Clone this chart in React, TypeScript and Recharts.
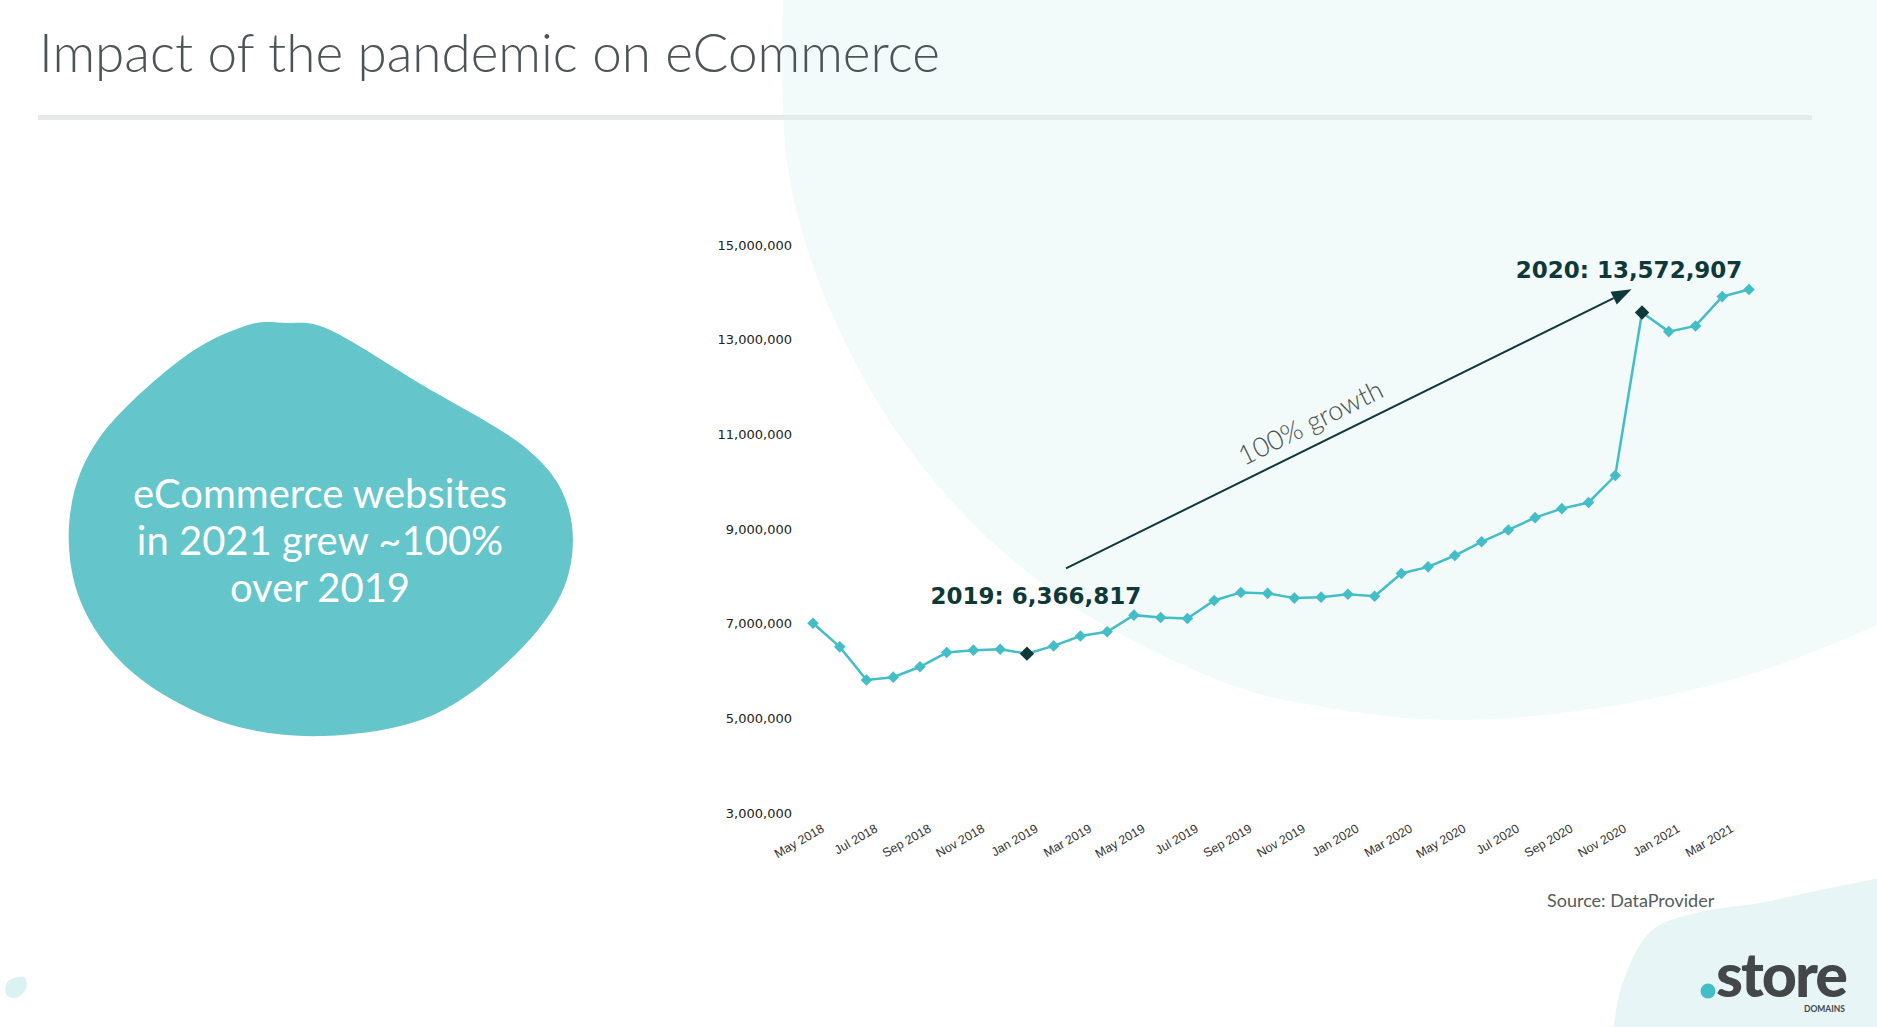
import { LineChart, Line, XAxis, YAxis, ReferenceDot, ReferenceLine } from 'recharts';

const months = [
  'May 2018', 'Jun 2018', 'Jul 2018', 'Aug 2018', 'Sep 2018', 'Oct 2018', 'Nov 2018', 'Dec 2018',
  'Jan 2019', 'Feb 2019', 'Mar 2019', 'Apr 2019', 'May 2019', 'Jun 2019', 'Jul 2019', 'Aug 2019',
  'Sep 2019', 'Oct 2019', 'Nov 2019', 'Dec 2019', 'Jan 2020', 'Feb 2020', 'Mar 2020', 'Apr 2020',
  'May 2020', 'Jun 2020', 'Jul 2020', 'Aug 2020', 'Sep 2020', 'Oct 2020', 'Nov 2020', 'Dec 2020',
  'Jan 2021', 'Feb 2021', 'Mar 2021', 'Apr 2021',
];

const websites = [
  7010000, 6510000, 5810000, 5870000, 6090000, 6390000, 6440000, 6460000,
  6366817, 6530000, 6740000, 6830000, 7180000, 7130000, 7110000, 7490000,
  7660000, 7640000, 7540000, 7560000, 7620000, 7580000, 8060000, 8200000,
  8440000, 8730000, 8980000, 9240000, 9430000, 9560000, 10130000, 13572907,
  13170000, 13290000, 13910000, 14060000,
];

const tickMonths = [
  'May 2018', 'Jul 2018', 'Sep 2018', 'Nov 2018', 'Jan 2019', 'Mar 2019', 'May 2019', 'Jul 2019',
  'Sep 2019', 'Nov 2019', 'Jan 2020', 'Mar 2020', 'May 2020', 'Jul 2020', 'Sep 2020', 'Nov 2020',
  'Jan 2021', 'Mar 2021',
];

const yTicks = [3000000, 5000000, 7000000, 9000000, 11000000, 13000000, 15000000];

const highlights = [
  { month: 'Jan 2019', label: '2019: 6,366,817' },
  { month: 'Dec 2020', label: '2020: 13,572,907' },
];

const data = months.map((m, i) => ({ i, month: m, value: websites[i] }));
const highlightIdx = highlights.map((h) => months.indexOf(h.month));

const W = 1877;
const H = 1027;
const teal = '#43bec6';
const dark = '#0f3838';

// smooth curve through points (catmull-rom), used for the decorative blobs
function smoothPath(pts: number[][], closed: boolean) {
  const n = pts.length;
  const get = (k: number) => (closed ? pts[(k + n) % n] : pts[Math.max(0, Math.min(n - 1, k))]);
  let d = `M${pts[0][0]},${pts[0][1]}`;
  const segs = closed ? n : n - 1;
  for (let k = 0; k < segs; k++) {
    const p0 = get(k - 1), p1 = get(k), p2 = get(k + 1), p3 = get(k + 2);
    const c1 = [p1[0] + (p2[0] - p0[0]) / 6, p1[1] + (p2[1] - p0[1]) / 6];
    const c2 = [p2[0] - (p3[0] - p1[0]) / 6, p2[1] - (p3[1] - p1[1]) / 6];
    d += ` C${c1[0]},${c1[1]} ${c2[0]},${c2[1]} ${p2[0]},${p2[1]}`;
  }
  return closed ? d + ' Z' : d;
}

const bigCircle =
  smoothPath(
    [[783, -29], [788, 168], [841, 334], [934, 481], [1063, 599], [1218, 680], [1330, 708],
      [1446, 720], [1570, 712], [1700, 688], [1800, 657], [1900, 615]],
    false,
  ) + ' L1900,-40 L783,-40 Z';

const cornerBlob =
  smoothPath(
    [[1612, 1040], [1622, 985], [1650, 932], [1700, 912], [1760, 903], [1820, 890], [1890, 876]],
    false,
  ) + ' L1890,1040 Z';

const leftBlob = smoothPath(
  [[287, 323], [330, 330], [419, 383], [527, 449], [569, 510], [565, 585], [515, 655], [431, 716],
    [323, 736], [222, 722], [132, 672], [80, 600], [70, 515], [100, 437], [180, 360], [245, 326]],
  true,
);

const smallBlob = smoothPath([[8, 981], [24, 977], [26, 989], [16, 998], [6, 994]], true);

function XTick(props: any) {
  const { x, y, payload } = props;
  return (
    <text
      transform={`translate(${x + 12},${y + 18}) rotate(-30)`}
      textAnchor="end"
      fontFamily="Liberation Sans"
      fontSize={12.5}
      fill="#333"
    >
      {months[payload.value]}
    </text>
  );
}

function Diamond(props: any) {
  const { cx, cy, index } = props;
  const hl = highlightIdx.includes(index);
  const s = hl ? 7.2 : 5.8;
  return (
    <polygon
      key={`d-${index}`}
      points={`${cx},${cy - s} ${cx + s},${cy} ${cx},${cy + s} ${cx - s},${cy}`}
      fill={hl ? dark : teal}
    />
  );
}

function GrowthArrow(props: any) {
  const { x1, y1, x2, y2 } = props;
  const a = Math.atan2(y2 - y1, x2 - x1);
  const len = 20;
  const half = 7;
  const bx = x2 - len * Math.cos(a);
  const by = y2 - len * Math.sin(a);
  const nx = Math.sin(a);
  const ny = -Math.cos(a);
  const t = 0.45;
  const tx = x1 + (x2 - x1) * t + 13 * nx;
  const ty = y1 + (y2 - y1) * t + 13 * ny;
  return (
    <g>
      <line x1={x1} y1={y1} x2={bx} y2={by} stroke={dark} strokeWidth={2} />
      <polygon
        points={`${x2},${y2} ${bx + half * nx},${by + half * ny} ${bx - half * nx},${by - half * ny}`}
        fill={dark}
      />
      <text
        x={tx}
        y={ty}
        transform={`rotate(${(a * 180) / Math.PI},${tx},${ty})`}
        textAnchor="middle"
        fontFamily="Lato"
        fontWeight={300}
        fontSize={27}
        fill="#485051"
      >
        100% growth
      </text>
    </g>
  );
}

function makeLabel(text: string, dx: number, dy: number) {
  return (p: any) => {
    const vb = p.viewBox || {};
    return (
      <text
        x={vb.x + dx}
        y={vb.y + dy}
        textAnchor="middle"
        fontFamily="DejaVu Sans"
        fontWeight="bold"
        fontSize={23}
        fill={dark}
      >
        {text}
      </text>
    );
  };
}

export default function App() {
  return (
    <div style={{ position: 'fixed', left: 0, top: 0, width: W, height: H, overflow: 'hidden', background: '#fff' }}>
      <svg width={W} height={H} style={{ position: 'absolute', left: 0, top: 0 }}>
        <path d={bigCircle} fill="#f3fafa" />
        <path d={cornerBlob} fill="#e8f5f6" />
        <path d={smallBlob} fill="#dcf1f2" />
        <text x={39} y={72} fontFamily="Lato" fontWeight={300} fontSize={53} fill="#4d5455">
          Impact of the pandemic on eCommerce
        </text>
        <rect x={38} y={115} width={1774} height={5} fill="#e7eaea" />
        <path d={leftBlob} fill="#64c6ca" />
        <g fontFamily="Lato" fontSize={40} fill="#fff" textAnchor="middle">
          <text x={320} y={508}>eCommerce websites</text>
          <text x={320} y={555}>in 2021 grew ~100%</text>
          <text x={320} y={602}>over 2019</text>
        </g>
        <text x={1547} y={907} fontFamily="Lato" fontSize={18} fill="#555b5c">
          Source: DataProvider
        </text>
        <circle cx={1708} cy={991} r={7.5} fill={teal} />
        <text x={1716} y={997} fontFamily="Lato" fontWeight={900} fontSize={61} letterSpacing={-2} fill="#43474a">
          store
        </text>
        <text x={1845} y={1012} textAnchor="end" fontFamily="Lato" fontWeight={700} fontSize={8.5} fill="#43474a">
          DOMAINS
        </text>
      </svg>
      <div style={{ position: 'absolute', left: 0, top: 0 }}>
        <LineChart width={W} height={H} data={data} margin={{ top: 245, right: 128, bottom: 154, left: 713 }}>
          <XAxis
            type="number"
            dataKey="i"
            domain={[0, months.length - 1]}
            ticks={tickMonths.map((m) => months.indexOf(m))}
            interval={0}
            axisLine={false}
            tickLine={false}
            tickSize={0}
            tickMargin={0}
            height={60}
            tick={<XTick />}
          />
          <YAxis
            type="number"
            domain={[3000000, 15000000]}
            ticks={yTicks}
            interval={0}
            axisLine={false}
            tickLine={false}
            tickSize={0}
            tickMargin={21}
            width={100}
            tick={{ fontFamily: 'DejaVu Sans', fontSize: 13, fill: '#222' }}
            tickFormatter={(v: number) => v.toLocaleString('en-US')}
          />
          <Line
            type="linear"
            dataKey="value"
            stroke={teal}
            strokeWidth={2.5}
            dot={Diamond}
            activeDot={false}
            isAnimationActive={false}
          />
          <ReferenceLine
            segment={[{ x: 9.46, y: 8170000 }, { x: 30.61, y: 14065000 }]}
            shape={GrowthArrow}
          />
          <ReferenceDot
            x={highlightIdx[0]}
            y={websites[highlightIdx[0]]}
            r={0}
            fill="none"
            stroke="none"
            label={makeLabel(highlights[0].label, 9, -50)}
          />
          <ReferenceDot
            x={highlightIdx[1]}
            y={websites[highlightIdx[1]]}
            r={0}
            fill="none"
            stroke="none"
            label={makeLabel(highlights[1].label, -13, -35)}
          />
        </LineChart>
      </div>
    </div>
  );
}
